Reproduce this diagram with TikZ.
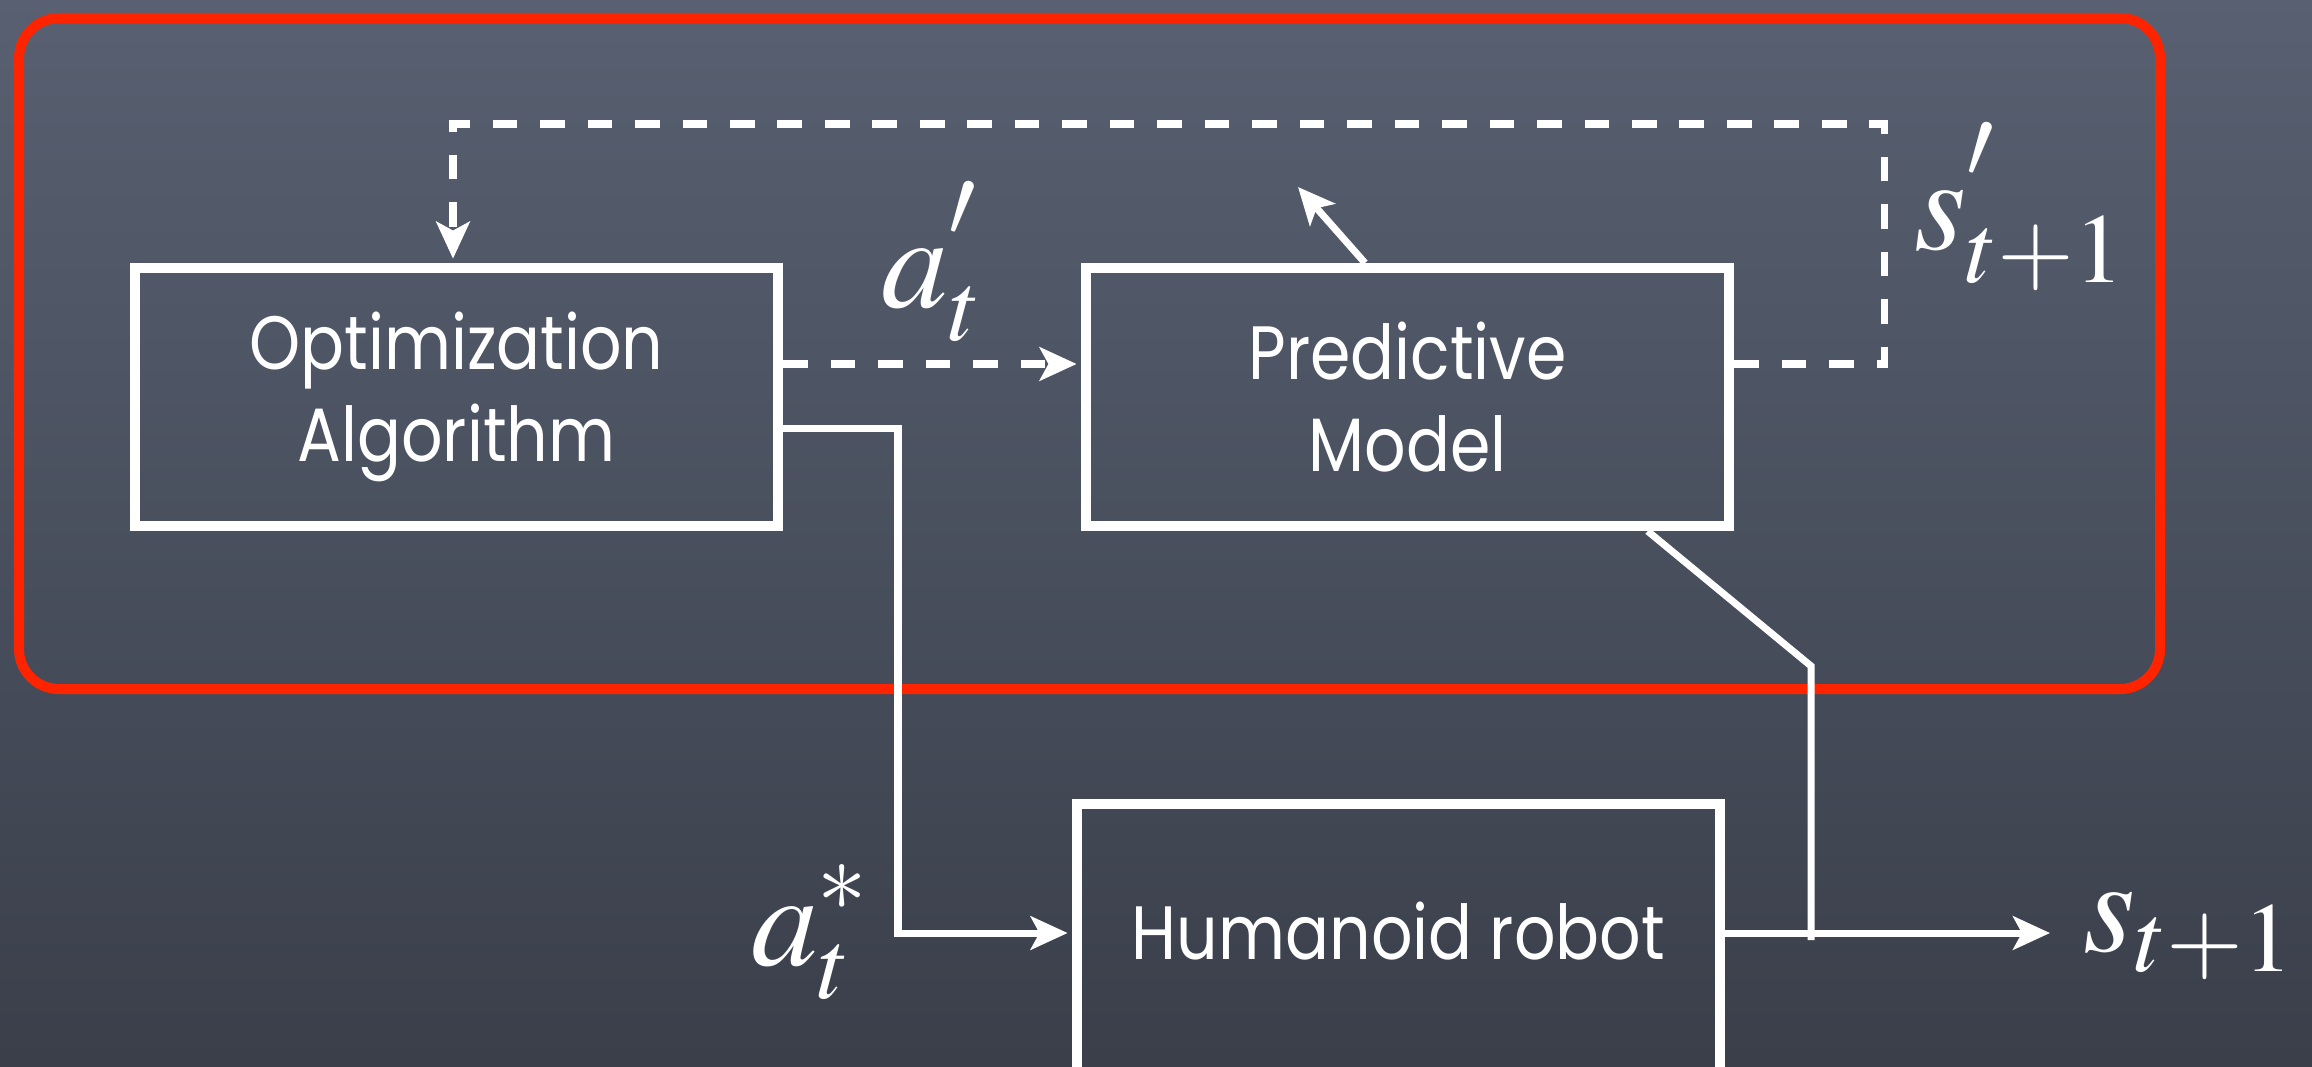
\documentclass[tikz,border=0pt]{standalone}
\usepackage{mathptmx}
\usepackage{fontspec}
\setmainfont{Poppins}[FakeStretch=0.86]
\usetikzlibrary{arrows.meta,calc}
\definecolor{slatetop}{RGB}{88,96,113}
\definecolor{slatebot}{RGB}{58,63,74}
\definecolor{chalkred}{RGB}{255,36,0}
% prime set a little above the base letter
\newcommand{\hprime}{\raisebox{0.12em}{$\scriptstyle\prime$}}
\begin{document}
\begin{tikzpicture}[x=0.01cm,y=-0.01cm,
  box/.style={draw=white,line width=2.85pt,minimum width=6.43cm,minimum height=2.58cm,
    align=center,text=white,inner sep=0pt,font=\fontsize{21.5}{26}\selectfont},
  wire/.style={draw=white,line width=2pt},
  dashwire/.style={wire,dash pattern=on 7pt off 6.5pt},
  tip/.style={-{Stealth[length=10.5pt,width=9.5pt,inset=2.5pt]}},
  mathlbl/.style={text=white,inner sep=0pt,font=\fontsize{38}{44}\selectfont}]
  % slate background
  \useasboundingbox (0,0) rectangle (2312,1066);
  \shade[top color=slatetop,bottom color=slatebot] (0,0) rectangle (2312,1066);

  % red frame around the planning loop
  \draw[chalkred,line width=2.85pt,rounded corners=0.4cm] (19,18) rectangle (2160,689);

  % blocks
  \node[box] (opt) at (456.5,397) {Optimization\\Algorithm};
  \node[box] (pred) at (1407.5,397) {Predictive\\Model};
  \node[box,align=none,text height=1.55cm,text depth=1.3cm,anchor=base] (hum) at (1398.5,959) {Humanoid robot};

  % bend points and free ends
  \coordinate (fbtop) at (1884,124);
  \coordinate (fbleft) at (453,124);
  \coordinate (astar) at (898,933);
  \coordinate (out) at (2050,933);
  \coordinate (kink) at (1811,666);
  \coordinate (join) at (1811,940);
  \coordinate (ptr) at (1298,187);

  % imagined loop (dashed)
  \draw[dashwire,tip] ([yshift=0.33cm]opt.east) -- ([yshift=0.33cm,xshift=-1.2pt]pred.west);
  \draw[dashwire,tip] ([yshift=0.33cm]pred.east) -| (fbtop) -- (fbleft) -- ([yshift=1.2pt]fbleft |- opt.north);

  % real loop (solid)
  \draw[wire,tip] ([yshift=-0.31cm]opt.east) -| (astar) -- ([xshift=-1.2pt]astar -| hum.west);
  \draw[wire,tip] (hum.east |- astar) -- (out);
  \draw[wire] ([xshift=2.4cm]pred.south) -- (kink) -- (join);
  \draw[wire,tip] ([xshift=-0.425cm]pred.north) -- (ptr);

  % signal labels
  \node[mathlbl] (lap) at (932,262) {$\displaystyle a^{\hprime}_{t}$};
  \node[mathlbl] (lsp) at (2020,207) {$\displaystyle s^{\hprime}_{t+1}$};
  \node[mathlbl] (las) at (810,932) {$\displaystyle a^{*}_{t}$};
  \node[mathlbl] (ls) at (2189,936) {$s_{t+1}$};
\end{tikzpicture}
\end{document}
